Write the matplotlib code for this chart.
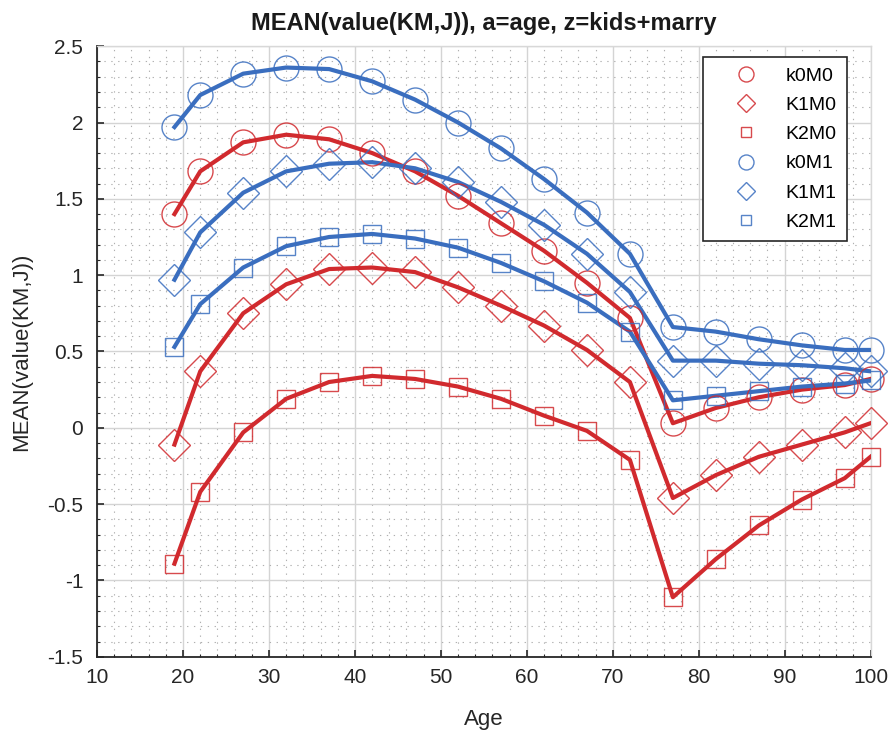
import numpy as np
import matplotlib.pyplot as plt
from matplotlib.ticker import MultipleLocator

plt.rcParams['font.family'] = ['Liberation Sans', 'DejaVu Sans']

age = [19, 22, 27, 32, 37, 42, 47, 52, 57, 62, 67, 72, 77, 82, 87, 92, 97, 100]

k0m0 = [1.40, 1.68, 1.87, 1.92, 1.89, 1.80, 1.68, 1.52, 1.34, 1.16, 0.95, 0.72,
        0.03, 0.13, 0.20, 0.25, 0.28, 0.32]
k1m0 = [-0.11, 0.37, 0.75, 0.94, 1.04, 1.05, 1.02, 0.92, 0.80, 0.67, 0.51, 0.30,
        -0.46, -0.31, -0.19, -0.11, -0.03, 0.03]
k2m0 = [-0.89, -0.42, -0.03, 0.19, 0.30, 0.34, 0.32, 0.27, 0.19, 0.08, -0.02, -0.21,
        -1.11, -0.86, -0.64, -0.47, -0.33, -0.19]
k0m1 = [1.97, 2.18, 2.32, 2.36, 2.35, 2.27, 2.15, 2.00, 1.83, 1.63, 1.41, 1.14,
        0.66, 0.63, 0.58, 0.54, 0.51, 0.51]
k1m1 = [0.97, 1.28, 1.54, 1.68, 1.73, 1.74, 1.70, 1.61, 1.48, 1.33, 1.14, 0.89,
        0.44, 0.44, 0.42, 0.41, 0.39, 0.37]
k2m1 = [0.53, 0.81, 1.05, 1.19, 1.25, 1.27, 1.24, 1.18, 1.08, 0.96, 0.82, 0.63,
        0.18, 0.21, 0.24, 0.27, 0.29, 0.31]

labels = ['k0M0', 'K1M0', 'K2M0', 'k0M1', 'K1M1', 'K2M1']
series = [k0m0, k1m0, k2m0, k0m1, k1m1, k2m1]
RED = '#d12a2e'
BLUE = '#3a6ebf'
colors = [RED, RED, RED, BLUE, BLUE, BLUE]
markers = ['o', 'D', 's', 'o', 'D', 's']
msizes = [18, 16, 13, 18, 16, 13]

fig = plt.figure(figsize=(8.91, 7.33), dpi=100)
ax = fig.add_axes([0.109, 0.104, 0.868, 0.833])

for y, lab, c, m, ms in zip(series, labels, colors, markers, msizes):
    ax.plot(age, y, color=c, linewidth=3, zorder=3)
    ax.plot(age, y, linestyle='none', marker=m, markersize=ms,
            markerfacecolor='none', markeredgecolor=c, markeredgewidth=1.0,
            alpha=0.85, zorder=4, label=lab, clip_on=False)

ax.set_xlim(10, 100)
ax.set_ylim(-1.5, 2.5)
ax.xaxis.set_major_locator(MultipleLocator(10))
ax.xaxis.set_minor_locator(MultipleLocator(2))
ax.yaxis.set_minor_locator(MultipleLocator(0.1))
ax.set_yticks(np.arange(-1.5, 2.51, 0.5))
ax.set_yticklabels(['-1.5', '-1', '-0.5', '0', '0.5', '1', '1.5', '2', '2.5'])

ax.grid(which='major', color='#d4d4d4', linewidth=1.0)
ax.grid(which='minor', color='#b0b0b0', linestyle=(0, (1.2, 5)), linewidth=0.8)
ax.set_axisbelow(True)

ax.tick_params(which='major', direction='in', length=5, width=1.2,
               labelsize=15, colors='#262626', top=False, right=False)
ax.tick_params(axis='x', which='major', pad=8)
ax.tick_params(axis='y', which='major', pad=10)
ax.tick_params(which='minor', direction='in', length=2.5, width=0.8,
               colors='#262626', top=False, right=False)
for side in ['left', 'bottom']:
    ax.spines[side].set_color('#262626')
    ax.spines[side].set_linewidth(1.3)
for side in ['top', 'right']:
    ax.spines[side].set_color('#d8d8d8')
    ax.spines[side].set_linewidth(1.0)

ax.set_xlabel('Age', fontsize=16, color='#262626', labelpad=16)
ax.set_ylabel('MEAN(value(KM,J))', fontsize=16, color='#262626', labelpad=11)
ax.set_title('MEAN(value(KM,J)), a=age, z=kids+marry', fontsize=17,
             fontweight='bold', color='#1a1a1a', pad=12)

leg = ax.legend(loc='upper right', fontsize=14, frameon=True, fancybox=False,
                framealpha=1, edgecolor='#262626', markerscale=0.6,
                handlelength=3.4, borderpad=0.5, labelspacing=0.6,
                handletextpad=0.36, borderaxespad=0,
                bbox_to_anchor=(0.969, 0.982))
leg.get_frame().set_linewidth(1.2)

fig.savefig('out.png', dpi=100)
